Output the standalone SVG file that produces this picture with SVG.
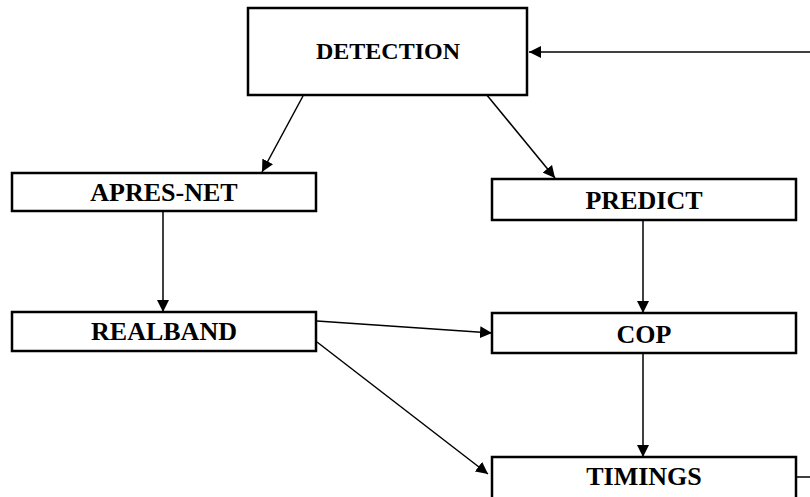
<svg xmlns="http://www.w3.org/2000/svg" width="810" height="497" viewBox="0 0 810 497">
  <defs>
    <marker id="arrow" viewBox="0 0 12 12" refX="12" refY="6" markerWidth="12" markerHeight="12" markerUnits="userSpaceOnUse" orient="auto">
      <path d="M0,0 L12,6 L0,12 z" fill="#000"/>
    </marker>
  </defs>
  <style>
    .box { fill: #fff; stroke: #000; stroke-width: 2.5; }
    .label { font-family: "Liberation Serif", "Times New Roman", serif; font-weight: bold; font-size: 26px; text-anchor: middle; fill: #000; }
    .title { font-size: 24px; }
    .edge { fill: none; stroke: #000; stroke-width: 1.5; }
    .arrowed { marker-end: url(#arrow); }
  </style>
  <rect width="810" height="497" fill="#fff"/>

  <g id="connectors">
    <line class="edge arrowed" x1="810" y1="52" x2="529" y2="52"/>
    <line class="edge arrowed" x1="303" y1="96" x2="262" y2="172"/>
    <line class="edge arrowed" x1="486" y1="94" x2="555" y2="178"/>
    <line class="edge arrowed" x1="163" y1="212" x2="163" y2="312"/>
    <line class="edge arrowed" x1="643" y1="221" x2="643" y2="313"/>
    <line class="edge arrowed" x1="317" y1="321" x2="492" y2="333"/>
    <line class="edge arrowed" x1="317" y1="342" x2="488" y2="474"/>
    <line class="edge arrowed" x1="643" y1="354" x2="643" y2="457"/>
    <line class="edge" x1="797" y1="477" x2="810" y2="477"/>
  </g>

  <g id="detection">
    <rect class="box" x="248" y="8" width="279" height="87"/>
    <text class="label title" x="388" y="59">DETECTION</text>
  </g>
  <g id="apres-net">
    <rect class="box" x="12" y="173" width="304" height="38"/>
    <text class="label" x="164" y="201">APRES-NET</text>
  </g>
  <g id="predict">
    <rect class="box" x="492" y="179" width="304" height="41"/>
    <text class="label" x="644" y="209">PREDICT</text>
  </g>
  <g id="realband">
    <rect class="box" x="12" y="312" width="304" height="39"/>
    <text class="label" x="164" y="340">REALBAND</text>
  </g>
  <g id="cop">
    <rect class="box" x="492" y="313" width="304" height="40"/>
    <text class="label" x="644" y="343">COP</text>
  </g>
  <g id="timings">
    <rect class="box" x="492" y="457" width="304" height="42"/>
    <text class="label" x="644" y="485">TIMINGS</text>
  </g>
</svg>
